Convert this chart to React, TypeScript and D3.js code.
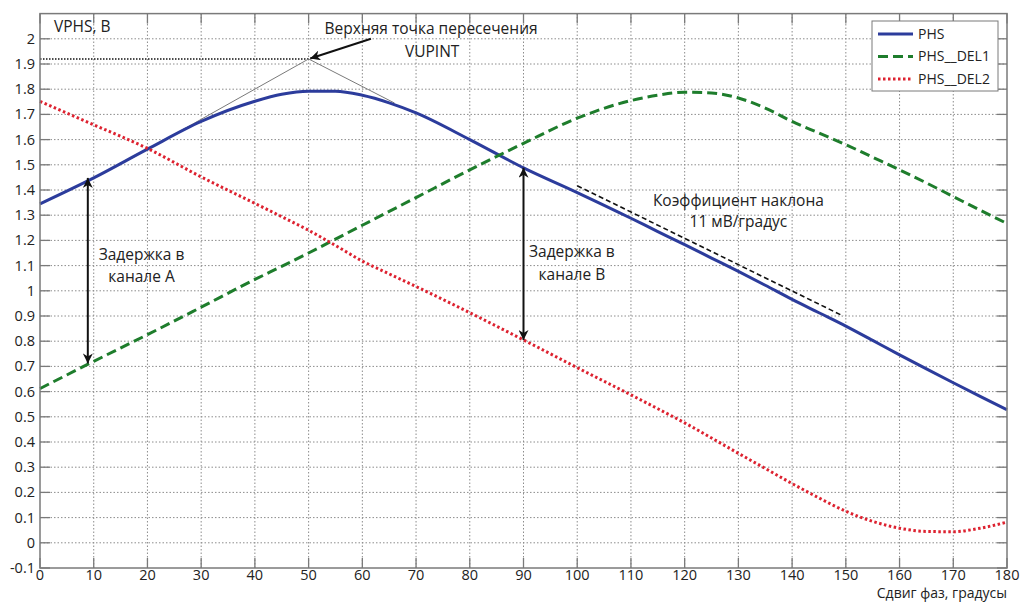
import { useEffect, useRef } from "react";
import * as d3 from "d3";

// phase shift, degrees
const phase = [0, 10, 20, 30, 40, 45, 50, 55, 60, 65, 70, 80, 90, 100, 110, 115, 120, 125, 130, 135, 140, 145, 150, 155, 160, 165, 170, 175, 180];

// VPHS, V
const phs = [1.345, 1.448, 1.562, 1.672, 1.752, 1.78, 1.792, 1.792, 1.776, 1.746, 1.706, 1.6, 1.488, 1.39, 1.288, 1.235, 1.183, 1.13, 1.077, 1.022, 0.966, 0.913, 0.86, 0.803, 0.746, 0.69, 0.635, 0.581, 0.528];
const phsDel1 = [0.612, 0.72, 0.826, 0.935, 1.045, 1.097, 1.15, 1.205, 1.26, 1.315, 1.37, 1.48, 1.585, 1.685, 1.755, 1.776, 1.788, 1.785, 1.765, 1.725, 1.672, 1.626, 1.58, 1.53, 1.48, 1.428, 1.374, 1.32, 1.267];
const phsDel2 = [1.752, 1.659, 1.565, 1.452, 1.347, 1.294, 1.24, 1.18, 1.118, 1.067, 1.017, 0.913, 0.805, 0.695, 0.587, 0.532, 0.476, 0.416, 0.355, 0.295, 0.235, 0.178, 0.125, 0.085, 0.058, 0.045, 0.044, 0.058, 0.082];

const xTicks = d3.range(0, 181, 10);
const yTicks = d3.range(-1, 21).map((d) => +(d / 10).toFixed(1));

const series = [
  { name: "PHS", values: phs, color: "#2c3c9c", dash: null },
  { name: "PHS__DEL1", values: phsDel1, color: "#1e7d2c", dash: "10,5" },
  { name: "PHS__DEL2", values: phsDel2, color: "#dd2230", dash: "2.5,2.5" },
];

const FONT = "'Open Sans', 'DejaVu Sans', sans-serif";

export default function App() {
  const svgRef = useRef<SVGSVGElement>(null);

  useEffect(() => {
    const svg = d3.select(svgRef.current);
    svg.selectAll("*").remove();

    const x = d3.scaleLinear().domain([0, 180]).range([40, 1007]);
    const y = d3.scaleLinear().domain([-0.1, 2.1]).range([568, 13.6]);
    const [x0, x1] = x.range();
    const [y0, y1] = y.range();

    const defs = svg.append("defs");
    defs
      .append("marker")
      .attr("id", "head")
      .attr("viewBox", "0 0 10 10")
      .attr("refX", 10)
      .attr("refY", 5)
      .attr("markerWidth", 6)
      .attr("markerHeight", 5)
      .attr("markerUnits", "strokeWidth")
      .attr("orient", "auto-start-reverse")
      .append("path")
      .attr("d", "M0,0 L10,5 L0,10 L3,5 Z")
      .attr("fill", "#111");

    // grid
    const grid = svg.append("g").attr("stroke", "#8c8c8c").attr("stroke-width", 1).attr("stroke-dasharray", "1.5,2");
    grid
      .selectAll("line.v")
      .data(xTicks.slice(1, -1))
      .join("line")
      .attr("x1", (d) => x(d))
      .attr("x2", (d) => x(d))
      .attr("y1", y0)
      .attr("y2", y1);
    grid
      .selectAll("line.h")
      .data(yTicks.slice(1))
      .join("line")
      .attr("x1", x0)
      .attr("x2", x1)
      .attr("y1", (d) => y(d))
      .attr("y2", (d) => y(d));

    // tick marks (inside, all four sides)
    const ticks = svg.append("g").attr("stroke", "#7a7a7a").attr("stroke-width", 1.3);
    const tl = 10;
    xTicks.forEach((d) => {
      ticks.append("line").attr("x1", x(d)).attr("x2", x(d)).attr("y1", y0).attr("y2", y0 - tl);
      ticks.append("line").attr("x1", x(d)).attr("x2", x(d)).attr("y1", y1).attr("y2", y1 + tl);
    });
    yTicks.forEach((d) => {
      ticks.append("line").attr("x1", x0).attr("x2", x0 + tl).attr("y1", y(d)).attr("y2", y(d));
      ticks.append("line").attr("x1", x1).attr("x2", x1 - tl).attr("y1", y(d)).attr("y2", y(d));
    });

    // tick labels
    svg
      .append("g")
      .selectAll("text")
      .data(xTicks)
      .join("text")
      .attr("x", (d) => x(d))
      .attr("y", y0 + 12)
      .attr("text-anchor", "middle")
      .attr("font-family", FONT)
      .attr("font-size", 14.5)
      .attr("fill", "#222")
      .text((d) => d);
    svg
      .append("g")
      .selectAll("text")
      .data(yTicks)
      .join("text")
      .attr("x", x0 - 5)
      .attr("y", (d) => y(d))
      .attr("dy", "0.35em")
      .attr("text-anchor", "end")
      .attr("font-family", FONT)
      .attr("font-size", 14.5)
      .attr("fill", "#222")
      .text((d) => d);

    svg
      .append("text")
      .attr("x", x1)
      .attr("y", y0 + 30)
      .attr("text-anchor", "end")
      .attr("font-family", FONT)
      .attr("font-size", 14)
      .attr("fill", "#222")
      .text("Сдвиг фаз, градусы");

    // tangent construction for VUPINT
    svg
      .append("line")
      .attr("x1", x(0))
      .attr("x2", x(50))
      .attr("y1", y(1.92))
      .attr("y2", y(1.92))
      .attr("stroke", "#111")
      .attr("stroke-width", 1.6)
      .attr("stroke-dasharray", "1.5,1.5");
    svg
      .append("path")
      .attr("d", d3.line()([[x(17), y(1.525)], [x(50), y(1.92)], [x(66), y(1.745)]]))
      .attr("fill", "none")
      .attr("stroke", "#7a7a7a")
      .attr("stroke-width", 1);

    // curves
    const line = d3
      .line<number>()
      .x((_, i) => x(phase[i]))
      .y((d) => y(d))
      .curve(d3.curveMonotoneX);

    series.forEach((s) => {
      svg
        .append("path")
        .attr("d", line(s.values))
        .attr("fill", "none")
        .attr("stroke", s.color)
        .attr("stroke-width", 3)
        .attr("stroke-dasharray", s.dash);
    });

    // slope line
    svg
      .append("line")
      .attr("x1", x(100))
      .attr("y1", y(1.417))
      .attr("x2", x(149.5))
      .attr("y2", y(0.9))
      .attr("stroke", "#111")
      .attr("stroke-width", 1.6)
      .attr("stroke-dasharray", "5,3");

    // arrows
    const arrow = (xa: number, ya: number, xb: number, yb: number, both: boolean) =>
      svg
        .append("line")
        .attr("x1", x(xa))
        .attr("y1", y(ya))
        .attr("x2", x(xb))
        .attr("y2", y(yb))
        .attr("stroke", "#111")
        .attr("stroke-width", 2)
        .attr("marker-end", "url(#head)")
        .attr("marker-start", both ? "url(#head)" : null);
    arrow(61.6, 2.0, 50.3, 1.922, false);
    arrow(8.9, 1.448, 8.9, 0.712, true);
    arrow(90, 1.488, 90, 0.805, true);

    // annotation texts
    const label = (tx: number, ty: number, str: string, anchor = "middle") =>
      svg
        .append("text")
        .attr("x", x(tx))
        .attr("y", y(ty))
        .attr("dy", "0.35em")
        .attr("text-anchor", anchor)
        .attr("font-family", FONT)
        .attr("font-size", 15.5)
        .attr("fill", "#222")
        .text(str);
    label(2.6, 2.047, "VPHS, B", "start");
    label(72.8, 2.04, "Верхняя точка пересечения");
    label(73, 1.948, "VUPINT");
    label(18.9, 1.143, "Задержка в");
    label(18.9, 1.056, "канале А");
    label(99, 1.155, "Задержка в");
    label(99, 1.063, "канале B");
    label(130, 1.357, "Коэффициент наклона");
    label(130, 1.274, "11 мВ/градус");

    // frame
    svg
      .append("rect")
      .attr("x", x0)
      .attr("y", y1)
      .attr("width", x1 - x0)
      .attr("height", y0 - y1)
      .attr("fill", "none")
      .attr("stroke", "#7a7a7a")
      .attr("stroke-width", 1.5);

    // legend
    const lg = svg.append("g").attr("transform", "translate(872,21)");
    lg.append("rect")
      .attr("width", 126)
      .attr("height", 70)
      .attr("fill", "#fff")
      .attr("stroke", "#7a7a7a")
      .attr("stroke-width", 1);
    series.forEach((s, i) => {
      const ly = 13 + i * 22.5;
      lg.append("line")
        .attr("x1", 6)
        .attr("x2", 41)
        .attr("y1", ly)
        .attr("y2", ly)
        .attr("stroke", s.color)
        .attr("stroke-width", 3)
        .attr("stroke-dasharray", s.dash);
      lg.append("text")
        .attr("x", 46)
        .attr("y", ly)
        .attr("dy", "0.35em")
        .attr("font-family", FONT)
        .attr("font-size", 14)
        .attr("fill", "#222")
        .text(s.name);
    });
  }, []);

  return (
    <div style={{ position: "absolute", left: 0, top: 0 }}>
      <svg ref={svgRef} width={1020} height={604} style={{ display: "block", background: "#fff" }} />
    </div>
  );
}
